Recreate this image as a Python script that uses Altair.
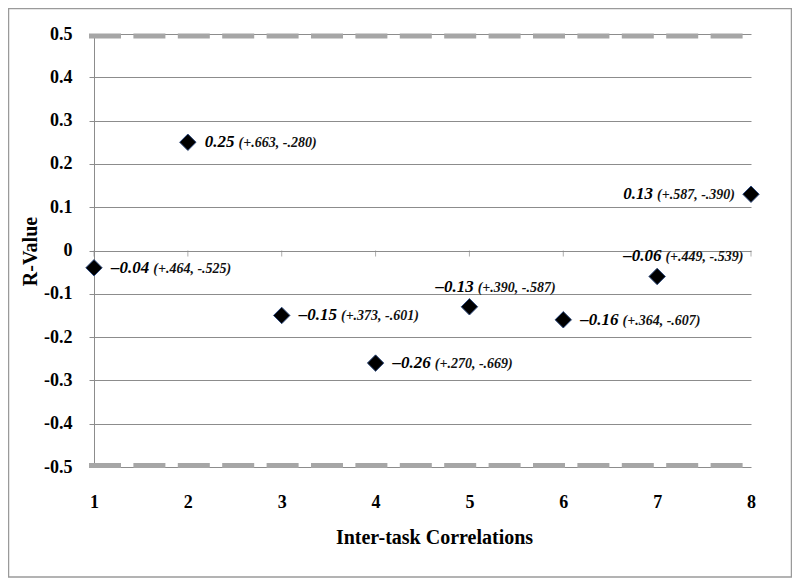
import altair as alt
import pandas as pd

# ---- data ----
x_vals = [1, 2, 3, 4, 5, 6, 7, 8]
r_vals = [-0.04, 0.25, -0.15, -0.26, -0.13, -0.16, -0.06, 0.13]
ci_labels = ["(+.464, -.525)", "(+.663, -.280)", "(+.373, -.601)", "(+.270, -.669)",
             "(+.390, -.587)", "(+.364, -.607)", "(+.449,  -.539)", "(+.587, -.390)"]
label_side = ["right", "right", "right", "right", "above", "right", "above", "left"]
y_ticks = [0.5, 0.4, 0.3, 0.2, 0.1, 0.0, -0.1, -0.2, -0.3, -0.4, -0.5]
limit_lines = [0.5, -0.5]

FONT = "Liberation Serif"
GRID = "#8c8c8c"
W, H = 657, 433
VAL_SIZE, CI_SIZE = 17, 14

val_labels = [f"{v:.2f}".replace("-", "\u2013") for v in r_vals]
df = pd.DataFrame({"i": range(len(x_vals)), "x": x_vals, "r": r_vals,
                   "val": val_labels, "ci": ci_labels})

# approximate glyph widths (em) for bold italic serif
EM = {"0": .5, "1": .5, "2": .5, "3": .5, "4": .5, "5": .5, "6": .5, "7": .5, "8": .5,
      "9": .5, ".": .25, ",": .25, "\u2013": .5, "-": .333, "(": .333, ")": .333,
      "+": .57, " ": .25}


def text_w(s, size):
    return sum(EM.get(c, .5) for c in s) * size


xscale = alt.Scale(domain=[1, 8], nice=False, zero=False)
yscale = alt.Scale(domain=[-0.5, 0.5], nice=False, zero=False)

x_axis = alt.Axis(
    values=x_vals, grid=False, domain=False, ticks=False, labelPadding=35,
    labelBaseline="middle", labelFlush=False, labelFont=FONT, labelFontSize=18,
    labelFontWeight="bold", labelColor="#000",
    titleFont=FONT, titleFontSize=20, titleFontWeight="bold", titleColor="#000",
    titleX=340, titleY=70, titleBaseline="middle", titleAlign="center")
y_axis = alt.Axis(
    values=y_ticks, grid=True, gridColor=GRID, gridWidth=1, domain=True,
    domainColor=GRID, ticks=True, tickSize=5, tickColor=GRID,
    labelExpr="datum.value == 0 ? '0' : replace(format(datum.value, '.1f'), '\u2212', '-')",
    labelFont=FONT, labelFontSize=18, labelFontWeight="bold", labelColor="#000",
    labelPadding=17, titleFont=FONT, titleFontSize=20,
    titleFontWeight="bold", titleColor="#000", titleX=-64, titleY=217,
    titleAngle=270, titleBaseline="middle", titleAlign="center")
XT = "Inter-task Correlations"
YT = "R-Value"


def xenc(f="x:Q"):
    return alt.X(f, scale=xscale, axis=x_axis, title=XT)


def yenc(f="r:Q"):
    return alt.Y(f, scale=yscale, axis=y_axis, title=YT)


base = alt.Chart(df)

# outer frame
frame = alt.Chart(pd.DataFrame({"a": [0]})).mark_rect(
    fillOpacity=0, stroke="#9a9a9a", strokeWidth=1.5
).encode(x=alt.value(-85.5), x2=alt.value(697.5), y=alt.value(-25.5), y2=alt.value(543))

lim_df = pd.DataFrame({"lim": limit_lines})
dash_top = alt.Chart(lim_df).transform_filter("datum.lim > 0").mark_rule(
    color="#a6a6a6", strokeWidth=5, strokeDash=[32, 12.4], yOffset=2
).encode(y=yenc("lim:Q"), x=alt.value(-5), x2=alt.value(W))
dash_bot = alt.Chart(lim_df).transform_filter("datum.lim < 0").mark_rule(
    color="#a6a6a6", strokeWidth=5, strokeDash=[32, 12.4], yOffset=-1.5
).encode(y=yenc("lim:Q"), x=alt.value(-5), x2=alt.value(W))

zero_ticks = base.transform_calculate(zero="0").mark_tick(
    orient="vertical", size=6, thickness=1, yOffset=3, color=GRID
).encode(x=xenc(), y=yenc("zero:Q"))

points = base.mark_point(
    shape="diamond", filled=True, size=270, fill="#000000", stroke="#2e4a7d",
    strokeWidth=1, opacity=1
).encode(x=xenc(), y=yenc())

labels = []
for k in range(len(x_vals)):
    wv = text_w(val_labels[k], VAL_SIZE)
    wc = text_w(ci_labels[k], CI_SIZE)
    side = label_side[k]
    if side == "right":
        vdx, dy = 17, 5
    elif side == "above":
        vdx, dy = -34, -15
    else:
        vdx, dy = -16 - wc - 4 - wv, 5
    cdx = vdx + wv + 4
    sub = base.transform_filter(f"datum.i == {k}")
    labels.append(sub.mark_text(
        align="left", baseline="alphabetic", dx=vdx, dy=dy, font=FONT,
        fontSize=VAL_SIZE, fontWeight="bold", fontStyle="italic", color="#000"
    ).encode(text="val:N", x=xenc(), y=yenc()))
    labels.append(sub.mark_text(
        align="left", baseline="alphabetic", dx=cdx, dy=dy, font=FONT,
        fontSize=CI_SIZE, fontWeight="bold", fontStyle="italic", color="#111"
    ).encode(text="ci:N", x=xenc(), y=yenc()))

chart = alt.layer(points, frame, dash_top, dash_bot, zero_ticks, *labels).properties(
    width=W, height=H,
    autosize=alt.AutoSizeParams(type="none"),
    padding={"left": 86, "top": 26, "right": 41, "bottom": 113},
).configure_view(stroke=None)

chart.save("out.html", embed_options={"renderer": "svg", "actions": False})
